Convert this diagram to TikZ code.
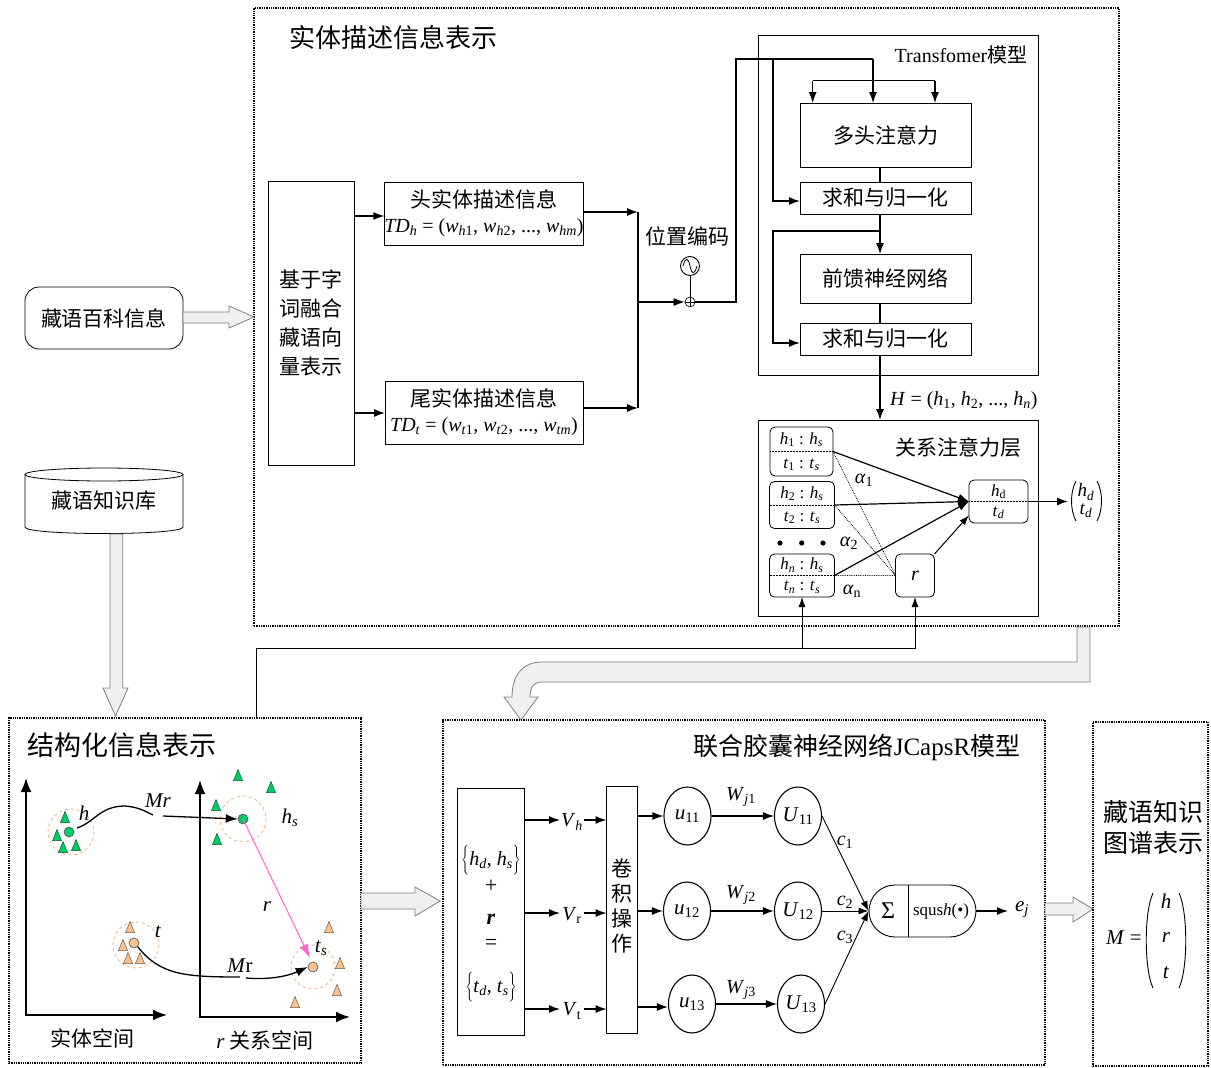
\documentclass[tikz,border=0pt]{standalone}
\usepackage{fontspec}
\setmainfont{Liberation Serif}
\newfontfamily\cjk{Noto Sans CJK SC}
\usetikzlibrary{arrows.meta,shapes.geometric,calc}
\definecolor{hgreen}{HTML}{00CC66}
\definecolor{tor}{HTML}{FAC090}
\definecolor{cdash}{HTML}{F4B183}
\definecolor{pinkr}{HTML}{FF66CC}
\definecolor{hfill}{HTML}{F0F0F0}
\definecolor{hdraw}{HTML}{7F7F7F}
\newcommand\iv[1]{\textit{#1}}
\newcommand\sbs[1]{\textsubscript{#1}}
\newcommand\fsz[1]{\fontsize{#1}{#1}\selectfont}
\newcommand\gtri[2]{\filldraw[fill=hgreen, draw=hgreen!45!black, line width=0.5pt] (#1,#2) ++(-4.5,5.5) -- ++(9,0) -- ++(-4.5,-11) -- cycle;}
\newcommand\otri[2]{\filldraw[fill=tor, draw=tor!45!black, line width=0.5pt] (#1,#2) ++(-4.5,5.5) -- ++(9,0) -- ++(-4.5,-11) -- cycle;}
\begin{document}
\begin{tikzpicture}[x=1pt,y=-1pt,
  box/.style={draw, line width=1pt, inner sep=0pt, outer sep=0pt},
  dbox/.style={draw, line width=1.3pt, densely dotted, inner sep=0pt},
  rbox/.style={box, rounded corners=5pt},
  arr/.style={line width=1.3pt, -{Latex[length=11pt,width=8pt]}},
  tarr/.style={line width=0.9pt, -{Latex[length=10pt,width=7pt]}},
  ln/.style={line width=1.3pt},
  hollow/.style={fill=hfill, draw=hdraw, line width=0.8pt},
  cn/.style={font=\cjk\fsz{21}, inner sep=0pt},
  lbl/.style={inner sep=0pt},
  paren/.style={line width=0.9pt},
  ocirc/.style={draw=cdash, dashed, line width=0.8pt},
  axis/.style={line width=1.8pt, {Latex[length=14pt,width=11pt]}-{Latex[length=14pt,width=11pt]}},
  capsnode/.style={draw, ellipse, line width=1.1pt, minimum width=47, minimum height=58, inner sep=0pt, font=\fsz{21}}
]
\useasboundingbox (0,0) rectangle (1211,1068);

% ================= top section =================
\node[dbox, minimum width=865, minimum height=618] (top) at (686.5,317) {};
\node[cn, font=\cjk\fsz{26}] (t1) at (393,38) {实体描述信息表示};

\node[box, line width=0.8pt, rounded corners=14pt, minimum width=158, minimum height=62, font=\cjk\fsz{21}] (baike) at (104,318) {藏语百科信息};
\path[hollow] (183,312) -- (229,312) -- (229,306) -- (254,317) -- (229,328) -- (229,323) -- (183,323) -- cycle;

\draw[line width=0.8pt, fill=white] (25,474.5) -- (25,527) .. controls (25,535.7) and (183,535.7) .. (183,527) -- (183,474.5);
\draw[line width=0.8pt] (104,474.5) ellipse [x radius=79, y radius=6.5];
\node[cn] (kb) at (104,501) {藏语知识库};
\path[hollow] (110,534) -- (110,688) -- (103,688) -- (115.5,716) -- (128,688) -- (122.7,688) -- (122.7,534) -- cycle;

\node[box, minimum width=86, minimum height=284, font=\cjk\fontsize{21}{29}\selectfont, align=center] (vec) at (311,323) {基于字\\词融合\\藏语向\\量表示};

\node[box, minimum width=198, minimum height=63, align=center, font=\fontsize{20}{25}\selectfont] (head) at (484,213.5)
  {{\cjk\fsz{21}头实体描述信息}\\\iv{TD}\sbs{\iv{h}} = (\iv{w}\sbs{\iv{h}1}, \iv{w}\sbs{\iv{h}2}, ..., \iv{w}\sbs{\iv{hm}})};
\node[box, minimum width=198, minimum height=63, align=center, font=\fontsize{20}{25}\selectfont] (tail) at (484,412.5)
  {{\cjk\fsz{21}尾实体描述信息}\\\iv{TD}\sbs{\iv{t}} = (\iv{w}\sbs{\iv{t}1}, \iv{w}\sbs{\iv{t}2}, ..., \iv{w}\sbs{\iv{tm}})};

\draw[arr] (vec.east |- 0,216) -- (head.west |- 0,216);
\draw[arr] (vec.east |- 0,413) -- (tail.west |- 0,413);
\coordinate (ja) at (638,212);
\coordinate (jb) at (638,408);
\coordinate (jc) at (638,302);
\draw[arr] (head.east |- ja) -- (ja);
\draw[arr] (tail.east |- jb) -- (jb);
\draw[ln] (ja) -- (jb);

\node[circle, draw, line width=0.6pt, minimum size=10, inner sep=0pt] (plus) at (690,302) {};
\draw[line width=0.6pt] (plus.north) -- (plus.south) (plus.west) -- (plus.east);
\node[circle, draw, line width=0.9pt, minimum size=19, inner sep=0pt] (osc) at (690,266) {};
\draw[line width=0.8pt] (683,266) .. controls (685.5,257) and (688,257) .. (690,266) .. controls (692,275) and (694.5,275) .. (697,266);
\draw[line width=1pt] (osc.south) -- (plus.north);
\node[cn] (pe) at (687,236) {位置编码};
\draw[arr] (jc) -- (plus.west);

% Transformer
\node[box, minimum width=280, minimum height=340] (tf) at (898,205) {};
\node[lbl, font=\fsz{20}] (tflab) at (961,55) {Transfomer{\cjk 模型}};
\node[box, minimum width=171, minimum height=64, font=\cjk\fsz{21}] (mha) at (885.5,135) {多头注意力};
\node[box, minimum width=171, minimum height=32, font=\cjk\fsz{21}] (an1) at (885.5,198) {求和与归一化};
\node[box, minimum width=171, minimum height=49, font=\cjk\fsz{21}] (ffn) at (885.5,278.5) {前馈神经网络};
\node[box, minimum width=171, minimum height=32, font=\cjk\fsz{21}] (an2) at (885.5,339) {求和与归一化};

\draw[ln] (plus.east) -- (736,302) -- (736,59) -- (873,59);
\draw[arr] (873,59) -- (mha.north -| 873,0);
\draw[arr] (773,59) -- (773,201) -- (an1.west |- 0,201);
\draw[ln] (812.7,80.7) -- (935,80.7);
\draw[arr] (812.7,80.7) -- (mha.north -| 812.7,0);
\draw[arr] (935,80.7) -- (mha.north -| 935,0);
\draw[ln] (mha.south -| 880,0) -- (an1.north -| 880,0);
\draw[arr] (an1.south -| 880,0) -- (ffn.north -| 880,0);
\draw[arr] (880,231) -- (773,231) -- (773,343) -- (an2.west |- 0,343);
\draw[ln] (ffn.south -| 880,0) -- (an2.north -| 880,0);

% relation attention
\node[box, minimum width=280, minimum height=196] (rel) at (898,518) {};
\draw[arr] (an2.south -| 880,0) -- (rel.north -| 880,0);
\node[lbl, font=\fsz{20}, anchor=west] (Hlab) at (890,401) {\iv{H} = (\iv{h}\sbs{1}, \iv{h}\sbs{2}, ..., \iv{h}\sbs{\iv{n}})};
\node[cn] (rellab) at (958,448) {关系注意力层};

\node[rbox, line width=0.8pt, minimum width=63, minimum height=49, align=center, font=\fsz{17}] (p1) at (801.5,451.5)
  {\iv{h}\sbs{1} : \iv{h}\sbs{\iv{s}}\\[7pt]\iv{t}\sbs{1} : \iv{t}\sbs{\iv{s}}};
\node[rbox, line width=0.8pt, minimum width=65, minimum height=47, align=center, font=\fsz{17}] (p2) at (802,505)
  {\iv{h}\sbs{2} : \iv{h}\sbs{\iv{s}}\\[6pt]\iv{t}\sbs{2} : \iv{t}\sbs{\iv{s}}};
\node[rbox, line width=0.8pt, minimum width=65, minimum height=43, align=center, font=\fsz{17}] (p3) at (802,575.5)
  {\iv{h}\sbs{\iv{n}} : \iv{h}\sbs{\iv{s}}\\[4pt]\iv{t}\sbs{\iv{n}} : \iv{t}\sbs{\iv{s}}};
\draw[densely dotted, line width=0.5pt] (p1.west) -- (p1.east) (p2.west) -- (p2.east) (p3.west) -- (p3.east);
\fill (780,543) circle[radius=2.6] (801.7,543) circle[radius=2.6] (823,543) circle[radius=2.6];
\node[rbox, line width=0.8pt, minimum width=39, minimum height=43, font=\fsz{20}\itshape] (rb) at (915,575.5) {r};
\node[rbox, line width=0.8pt, minimum width=59, minimum height=43, align=center, font=\fsz{17}] (hd) at (998.5,501.5)
  {\iv{h}\sbs{d}\\[3pt]\iv{t}\sbs{\iv{d}}};
\draw[densely dotted, line width=0.5pt] (hd.west) -- (hd.east);

\draw[line width=1.2pt, -{Latex[length=11pt,width=8pt]}] (p1.east) -- (hd.west);
\draw[line width=1.2pt, -{Latex[length=11pt,width=8pt]}] (p2.east) -- (hd.west);
\draw[line width=1.2pt, -{Latex[length=11pt,width=8pt]}] (p3.east) -- (hd.west);
\draw[line width=1pt, -{Latex[length=10pt,width=7pt]}] (rb.north east) -- (hd.205);
\draw[densely dotted, line width=0.8pt] (p1.east) -- (rb.west) (p2.east) -- (rb.west) (p3.east) -- (rb.west);
\node[lbl, font=\fsz{20}] (a1) at (864,480) {\iv{α}\sbs{1}};
\node[lbl, font=\fsz{20}] (a2) at (849,543) {\iv{α}\sbs{2}};
\node[lbl, font=\fsz{20}] (an) at (852,591) {\iv{α}\sbs{n}};

\draw[arr] (hd.east) -- (1068,501.5);
\node[lbl, font=\fsz{19}] (vhd) at (1086,492) {\iv{h}\sbs{\iv{d}}};
\node[lbl, font=\fsz{19}] (vtd) at (1086,511) {\iv{t}\sbs{\iv{d}}};
\draw[paren] (1076,481) .. controls (1070,492) and (1070,510) .. (1076,521);
\draw[paren] (1097,481) .. controls (1103,492) and (1103,510) .. (1097,521);

% bent hollow arrow to JCaps
\path[hollow] (1077,627) -- (1077,662) -- (542,662) .. controls (522,662) and (512,676) .. (512,697) -- (504,697) -- (521,720) -- (538,697) -- (530,697) .. controls (530,688) and (533,682) .. (542,682) -- (1090,682) -- (1090,627) -- cycle;

% ================= structured section =================
\node[dbox, minimum width=352, minimum height=345] (struct) at (185,890.5) {};
\node[cn, font=\cjk\fsz{27}] (t2) at (122,745) {结构化信息表示};

\draw[tarr] (struct.north -| 256,0) -- (256,648) -- (rb.south |- 0,648) -- (rb.south);
\draw[tarr] (p3.south |- 0,648) -- (p3.south);

\draw[axis] (26,778) -- (26,1015) -- (167,1015);
\draw[axis] (200,780) -- (200,1017) -- (350,1017);
\node[cn] (es) at (92,1038) {实体空间};
\node[lbl, font=\fsz{21}] (rs) at (265,1040) {\iv{r} {\cjk 关系空间}};

\draw[ocirc] (71,832) circle[radius=23];
\draw[ocirc] (243,819) circle[radius=23];
\draw[ocirc] (136,945) circle[radius=23];
\draw[ocirc] (313,967) circle[radius=22];

\gtri{65}{817} \gtri{57}{835} \gtri{63}{847} \gtri{76}{845}
\gtri{238}{775} \gtri{271}{787} \gtri{216}{805} \gtri{217}{839}
\otri{130}{927} \otri{123}{945} \otri{128}{958} \otri{140}{958}
\otri{329}{927} \otri{340}{963} \otri{337}{990} \otri{295}{1002}

\draw[line width=1.3pt] (77,828) .. controls (95,822) and (100,806) .. (125,806) .. controls (140,807) and (148,813) .. (153,815);
\node[circle, draw=black!70, fill=hgreen, line width=0.6pt, minimum size=10, inner sep=0pt] (hdot) at (69,832) {};
\node[circle, draw=black!70, fill=hgreen, line width=0.6pt, minimum size=10, inner sep=0pt] (hsdot) at (243,819) {};
\node[circle, draw=black!70, fill=tor, line width=0.6pt, minimum size=10, inner sep=0pt] (tdot) at (134,943) {};
\node[circle, draw=black!70, fill=tor, line width=0.6pt, minimum size=10, inner sep=0pt] (tsdot) at (313,967) {};
\draw[line width=1.3pt, -{Latex[length=12pt,width=9pt]}] (163,816) -- (hsdot.west);
\draw[line width=1.3pt] (tdot.south east) .. controls (160,975) and (185,977) .. (240,977);
\draw[line width=1.3pt, -{Latex[length=12pt,width=9pt]}] (246,978) .. controls (270,980) and (288,976) .. (tsdot.west);
\draw[pinkr, line width=1pt, -{Latex[length=14pt,width=9pt]}] (hsdot.center) -- (310,958);

\node[lbl, font=\fsz{21}] (mr1) at (158,801) {\iv{Mr}};
\node[lbl, font=\fsz{21}] (mr2) at (240,966) {\iv{M}r};
\node[lbl, font=\fsz{21}] (lh) at (84,813) {\iv{h}};
\node[lbl, font=\fsz{21}] (lhs) at (290,818) {\iv{h}\sbs{\iv{s}}};
\node[lbl, font=\fsz{21}] (lt) at (158,932) {\iv{t}};
\node[lbl, font=\fsz{21}] (lts) at (321,948) {\iv{t}\sbs{\iv{s}}};
\node[lbl, font=\fsz{21}] (lr) at (267,907) {\iv{r}};

\path[hollow] (361,893) -- (415,893) -- (415,887) -- (440,901) -- (415,916) -- (415,909) -- (361,909) -- cycle;

% ================= JCaps section =================
\node[dbox, minimum width=602, minimum height=345] (jc) at (744,892.5) {};
\node[lbl, font=\fsz{25}] (t3) at (857,747) {{\cjk 联合胶囊神经网络}JCapsR{\cjk 模型}};

\node[box, minimum width=67, minimum height=247] (inb) at (491,911.5) {};
\node[lbl, font=\fsz{20}] (i1) at (491,860) {$\left\{\rule[-9pt]{0pt}{27pt}\mbox{\iv{h}\sbs{\iv{d}}, \iv{h}\sbs{\iv{s}}}\right\}$};
\node[lbl, font=\fsz{22}] (i2) at (491,886) {+};
\node[lbl, font=\fsz{22}\bfseries\itshape] (i3) at (491,919) {r};
\node[lbl, font=\fsz{22}] (i4) at (491,944) {=};
\node[lbl, font=\fsz{20}] (i5) at (491,987) {$\left\{\rule[-9pt]{0pt}{27pt}\mbox{\iv{t}\sbs{\iv{d}}, \iv{t}\sbs{\iv{s}}}\right\}$};

\node[box, minimum width=31, minimum height=247] (conv) at (622,909.5) {};
\node[lbl, font=\cjk\fontsize{21}{25}\selectfont, align=center] (convt) at (622,906) {卷\\积\\操\\作};

\node[lbl, font=\fsz{20}] (vh) at (572,822) {\iv{V}\sbs{\iv{h}}};
\node[lbl, font=\fsz{20}] (vr) at (572,915) {\iv{V}\sbs{r}};
\node[lbl, font=\fsz{20}] (vt) at (572,1011) {\iv{V}\sbs{t}};
\draw[arr] (inb.east |- 0,820) -- (560,820);
\draw[arr] (584,820) -- (conv.west |- 0,820);
\draw[arr] (inb.east |- 0,913) -- (560,913);
\draw[arr] (584,913) -- (conv.west |- 0,913);
\draw[arr] (inb.east |- 0,1009) -- (560,1009);
\draw[arr] (584,1009) -- (conv.west |- 0,1009);

\node[capsnode] (u11) at (687.5,816) {\iv{u}\sbs{11}};
\node[capsnode] (u12) at (687,911) {\iv{u}\sbs{12}};
\node[capsnode] (u13) at (692,1004) {\iv{u}\sbs{13}};
\node[capsnode] (U11) at (798,816) {\iv{U}\sbs{11}};
\node[capsnode] (U12) at (798,911) {\iv{U}\sbs{12}};
\node[capsnode] (U13) at (801,1004) {\iv{U}\sbs{13}};
\draw[arr] (conv.east |- u11) -- (u11.west);
\draw[arr] (conv.east |- u12) -- (u12.west);
\draw[arr] (conv.east |- 0,1007) -- (u13.west |- 0,1007);
\draw[arr] (u11.east) -- (U11.west);
\draw[arr] (u12.east) -- (U12.west);
\draw[arr] (u13.east) -- (U13.west);
\node[lbl, font=\fsz{20}] (w1) at (741,797) {\iv{W}\sbs{\iv{j}1}};
\node[lbl, font=\fsz{20}] (w2) at (741,895) {\iv{W}\sbs{\iv{j}2}};
\node[lbl, font=\fsz{20}] (w3) at (741,990) {\iv{W}\sbs{\iv{j}3}};

\node[draw, line width=0.9pt, rounded corners=26pt, minimum width=107, minimum height=52, inner sep=0pt] (sum) at (922.5,911) {};
\draw[line width=0.9pt] (sum.north -| 908,0) -- (sum.south -| 908,0);
\node[lbl, font=\fsz{24}] (sig) at (888,911) {Σ};
\node[lbl, font=\fsz{17}] (sq) at (941,911) {squs\iv{h}(•)};
\draw[tarr] (U11.east) -- (sum.west);
\draw[tarr] (U12.east) -- (sum.west);
\draw[tarr] (U13.east) -- (sum.west);
\node[lbl, font=\fsz{20}] (c1) at (845,842) {\iv{c}\sbs{1}};
\node[lbl, font=\fsz{20}] (c2) at (845,902) {\iv{c}\sbs{2}};
\node[lbl, font=\fsz{20}] (c3) at (845,937) {\iv{c}\sbs{3}};
\draw[arr] (sum.east) -- (1008,911);
\node[lbl, font=\fsz{21}] (ej) at (1022,910) {\iv{e}\sbs{\iv{j}}};

\path[hollow] (1045,903) -- (1073,903) -- (1073,897) -- (1093,909) -- (1073,922) -- (1073,915) -- (1045,915) -- cycle;

% ================= output section =================
\node[dbox, minimum width=115, minimum height=344] (outb) at (1150.5,894) {};
\node[lbl, font=\cjk\fontsize{25}{31}\selectfont, align=center] (outt) at (1153,827) {藏语知识\\图谱表示};
\node[lbl, font=\fsz{21}] (mlhs) at (1124,938) {\iv{M} =};
\node[lbl, font=\fsz{21}] (mh) at (1166,901) {\iv{h}};
\node[lbl, font=\fsz{21}] (mr) at (1166,938) {\iv{r}};
\node[lbl, font=\fsz{21}] (mt) at (1166,973) {\iv{t}};
\draw[paren] (1153,893) .. controls (1144,912) and (1144,969) .. (1153,988);
\draw[paren] (1179,893) .. controls (1188,912) and (1188,969) .. (1179,988);
\end{tikzpicture}
\end{document}
